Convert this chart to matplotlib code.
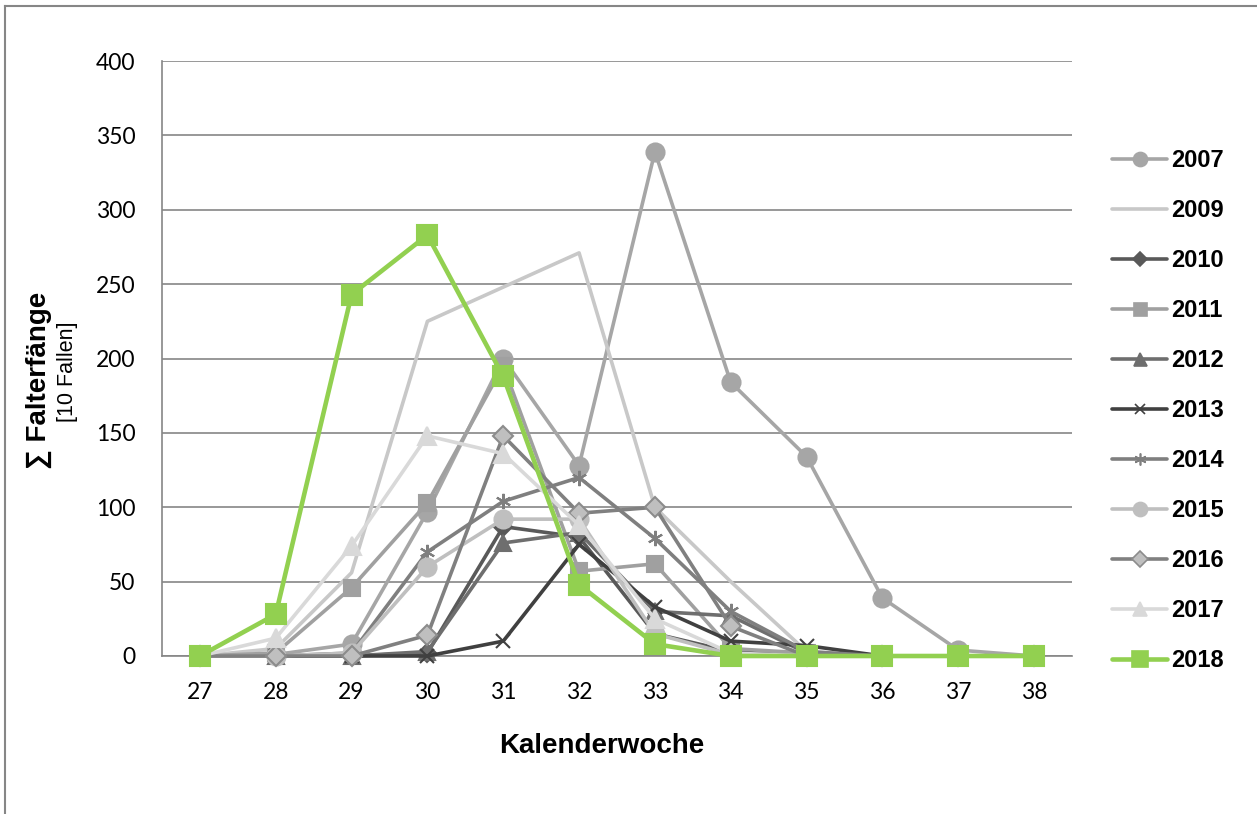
import matplotlib
matplotlib.use("Agg")
import matplotlib.pyplot as plt
from matplotlib.lines import Line2D

weeks = [27, 28, 29, 30, 31, 32, 33, 34, 35, 36, 37, 38]
y2007 = [0, 1, 8, 97, 200, 128, 339, 184, 134, 39, 4, 0]
y2009 = [0, 5, 56, 225, 248, 271, 100, 50, 3, 0, 0, 0]
y2010 = [0, 0, 0, 2, 87, 80, 15, 3, 0, 0, 0, 0]
y2011 = [0, 2, 46, 103, 195, 57, 62, 5, 2, 0, 0, 0]
y2012 = [0, 0, 0, 3, 76, 83, 30, 27, 2, 0, 0, 0]
y2013 = [0, 0, 0, 0, 10, 75, 33, 10, 7, 0, 0, 0]
y2014 = [0, 0, 2, 70, 104, 120, 79, 30, 3, 0, 0, 0]
y2015 = [0, 0, 2, 60, 92, 92, 15, 1, 0, 0, 0, 0]
y2016 = [0, 0, 0, 14, 148, 96, 100, 20, 0, 0, 0, 0]
y2017 = [0, 12, 74, 148, 136, 88, 25, 2, 0, 0, 0, 0]
y2018 = [0, 28, 243, 283, 188, 48, 8, 0, 0, 0, 0, 0]
yticks = [0, 50, 100, 150, 200, 250, 300, 350, 400]

W, H = 1257, 814
fig = plt.figure(figsize=(W / 100, H / 100), dpi=100)
ax = fig.add_axes([162 / W, (H - 656) / H, (1072 - 162) / W, (656 - 61) / H])

GRID = "#868686"
asterisk = (6, 2, 0)
series = [
    ("2007", y2007, "#a6a6a6", "o", "#a6a6a6", "#a6a6a6", 13),
    ("2009", y2009, "#c8c8c8", None, "#c8c8c8", "#c8c8c8", 0),
    ("2010", y2010, "#595959", "D", "#595959", "#595959", 9),
    ("2011", y2011, "#a0a0a0", "s", "#a0a0a0", "#a0a0a0", 12),
    ("2012", y2012, "#6e6e6e", "^", "#6e6e6e", "#6e6e6e", 12),
    ("2013", y2013, "#404040", "x", "#404040", "#404040", 10),
    ("2014", y2014, "#7f7f7f", asterisk, "#7f7f7f", "#7f7f7f", 11),
    ("2015", y2015, "#bfbfbf", "o", "#bfbfbf", "#bfbfbf", 13),
    ("2016", y2016, "#808080", "D", "#bfbfbf", "#8c8c8c", 10),
    ("2017", y2017, "#d9d9d9", "^", "#d9d9d9", "#d9d9d9", 13),
    ("2018", y2018, "#92d050", "s", "#92d050", "#92d050", 14),
]

handles = []
for i, (lab, vals, col, mk, fc, ec, ms) in enumerate(series):
    lw = 3.3 if lab == "2018" else 2.6
    ax.plot(weeks, vals, color=col, lw=lw, marker=mk, markersize=ms,
            markerfacecolor=fc, markeredgecolor=ec, markeredgewidth=1.5,
            zorder=3 + i, solid_joinstyle="round", clip_on=False)
    handles.append(Line2D([], [], color=col, lw=lw, marker=mk,
                          markersize=ms * 0.78, markerfacecolor=fc,
                          markeredgecolor=ec, markeredgewidth=1.2,
                          solid_capstyle="round", label=lab))

ax.set_xlim(26.5, 38.5)
ax.set_ylim(0, 400)
ax.set_xticks(weeks)
ax.set_yticks(yticks)
ax.yaxis.grid(True, color=GRID, lw=1.2)
ax.set_axisbelow(True)
for s in ["top", "right"]:
    ax.spines[s].set_visible(False)
for s in ["left", "bottom"]:
    ax.spines[s].set_color(GRID)
    ax.spines[s].set_linewidth(1.2)
ax.tick_params(axis="both", length=0, labelsize=16.5)
ax.tick_params(axis="x", pad=19)
ax.tick_params(axis="y", pad=19)
for t in ax.get_xticklabels() + ax.get_yticklabels():
    t.set_fontfamily("Lato")

fig.text(602 / W, 1 - 746 / H, "Kalenderwoche", ha="center", va="center",
         fontsize=20, fontweight="bold", family="Liberation Sans")
fig.text(39 / W, 1 - 380 / H, "∑ Falterfänge", ha="center", va="center",
         rotation=90, fontsize=20, fontweight="bold",
         family=["Liberation Sans", "DejaVu Sans"])
fig.text(68 / W, 1 - 372 / H, "[10 Fallen]", ha="center", va="center",
         rotation=90, fontsize=15.5, family="Liberation Sans")

leg = fig.legend(handles=handles, loc="upper left",
                 bbox_to_anchor=(1112 / W, 1 - 149 / H), frameon=False,
                 borderpad=0, borderaxespad=0,
                 handlelength=2.35, handletextpad=0.15, labelspacing=1.145,
                 prop={"family": "Liberation Sans", "weight": "bold", "size": 17})

# outer chart border (left and top)
fig.add_artist(Line2D([5 / W, 5 / W], [0, 1 - 6 / H], color=GRID, lw=1.5,
                      transform=fig.transFigure))
fig.add_artist(Line2D([5 / W, 1], [1 - 6 / H, 1 - 6 / H], color=GRID, lw=1.5,
                      transform=fig.transFigure))

fig.savefig("out.png", dpi=100)
